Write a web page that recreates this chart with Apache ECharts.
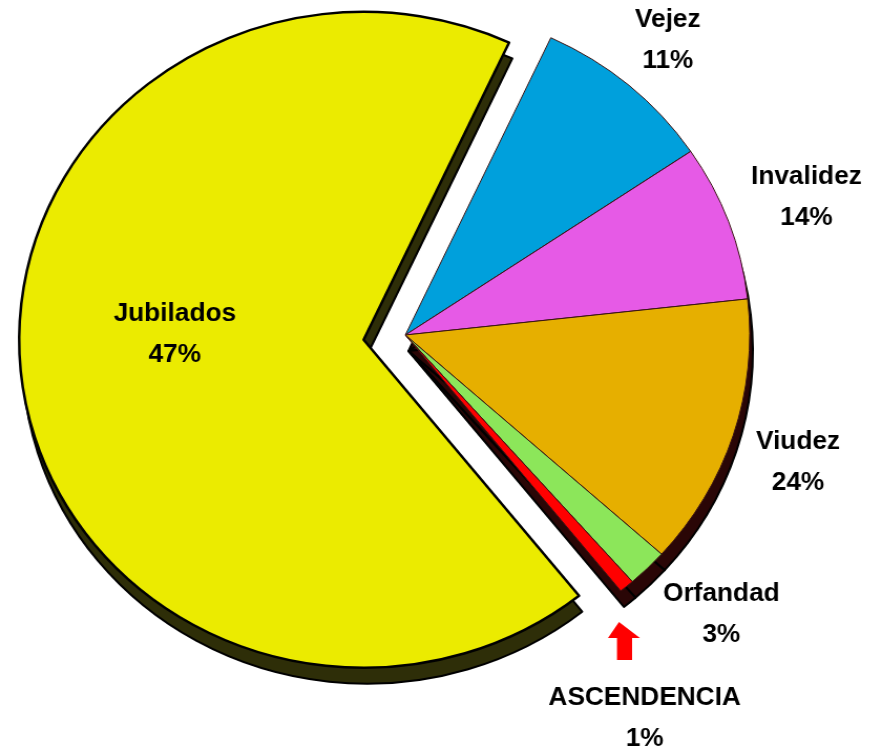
<!DOCTYPE html>
<html>
<head>
<meta charset="utf-8">
<title>Pensiones</title>
<script src="https://cdn.jsdelivr.net/npm/echarts@6/dist/echarts.min.js"></script>
<style>
	html,body{margin:0;padding:0;background:#fff;overflow:hidden;}
	/* la torta original es un poco mas ancha que alta */
	#echart{width:831px;height:752px;transform:scaleX(1.05);transform-origin:0 0;}
</style>
</head>
<body>
<div id="echart"></div>
<script>
// categorias, en el orden en que se dibujan (horario, desde arriba)
var categories = ['Vejez', 'Invalidez', 'Viudez', 'Orfandad', 'ASCENDENCIA', 'Jubilados'];
// porcentajes escritos en las etiquetas
var pctText = ['11%', '14%', '24%', '3%', '1%', '47%'];
// tamano de cada sector tal como se ve en la imagen (% del circulo)
var sliceSize = [8.6, 7.7, 13.4, 1.9, 0.7, 67.7];

var sliceColors = ['#00a0dc', '#e65ae6', '#e6af00', '#8ce65a', '#ff0000', '#ebeb00'];
var sideColors = ['#2a0606', '#2a0606', '#2a0606', '#2a0606', '#2a0606', '#2e2e08'];

// donde va cada etiqueta de afuera (centro del bloque de texto)
var labelSpot = [
	[636, 41], [768, 198], [760, 463], [687, 615], [614, 719]
];

var pieCenter = [386, 335];
var pieRadius = 328;

var labelFont = {
	color: '#000',
	fontFamily: 'Liberation Sans',
	fontWeight: 'bold',
	fontSize: 25,
	lineHeight: 41
};

function buildData(side){
	var list = [];
	for(var i=0;i<categories.length;i++){
		var big = (categories[i]=='Jubilados');
		var item = {
			name: categories[i],
			value: sliceSize[i],
			selected: big
		};
		if(side){
			item.itemStyle = { color: sideColors[i], borderColor: '#000', borderWidth: 2 };
		}else{
			item.itemStyle = {
				color: sliceColors[i],
				borderColor: big ? '#000' : '#3a1414',
				borderWidth: big ? 2.5 : 1
			};
			if(big){
				// dentro del sector, corrida un poco arriba y a la izquierda
				item.label = { position: 'inside', padding: [0, 28, 0, 0] };
			}
		}
		list.push(item);
	}
	return list;
}

function labelText(p){
	if(p.name=='Jubilados'){
		// una linea vacia abajo sube el bloque de texto
		return '{t|' + p.name + '}\n{t|' + pctText[p.dataIndex] + '}\n{sp| }';
	}
	return p.name + '\n' + pctText[p.dataIndex];
}

function showEchart(){
	echarts.dispose(document.getElementById('echart'));
	var myChart = echarts.init(document.getElementById('echart'));
	var base = {
		type: 'pie',
		radius: pieRadius,
		startAngle: 65,
		clockwise: true,
		selectedMode: 'single',
		selectedOffset: 40,
		avoidLabelOverlap: false,
		labelLine: { show: false },
		emphasis: { disabled: true }
	};
	// cara lateral (grosor 3D), desplazada hacia abajo
	var sideSerie = $.extend({}, base, {
		name: 'lado',
		center: [pieCenter[0] + 3, pieCenter[1] + 16],
		silent: true,
		label: { show: false },
		data: buildData(true)
	});
	var topSerie = $.extend({}, base, {
		name: 'Pensiones',
		center: pieCenter,
		label: $.extend({
			show: true,
			position: 'outside',
			formatter: labelText,
			align: 'center',
			rich: {
				t: $.extend({}, labelFont),
				sp: { fontSize: 10, lineHeight: 50 }
			}
		}, labelFont),
		labelLayout: function(p){
			var s = labelSpot[p.dataIndex];
			if(!s){
				return;
			}
			return { x: s[0], y: s[1], align: 'center', verticalAlign: 'middle' };
		},
		data: buildData(false)
	});
	var option = {
		animation: false,
		graphic: [{
			// flecha roja que senala la ASCENDENCIA
			type: 'polygon',
			shape: {
				points: [[589.5,622],[609.5,638],[602,638],[602,660],[587.6,660],[587.6,638],[579,638]]
			},
			style: { fill: '#ff0000' }
		}],
		series: [sideSerie, topSerie]
	};
	myChart.setOption(option);
}

// copia simple de propiedades (sin jQuery en esta pagina)
var $ = {
	extend: function(target){
		for(var i=1;i<arguments.length;i++){
			var src = arguments[i];
			for(var k in src){ target[k] = src[k]; }
		}
		return target;
	}
};

showEchart();
</script>
</body>
</html>
